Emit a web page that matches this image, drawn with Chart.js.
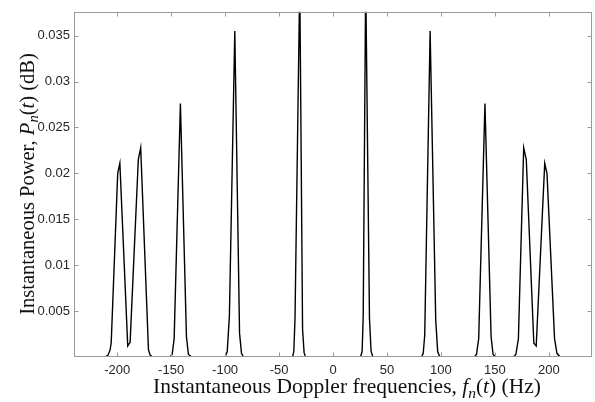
<!DOCTYPE html>
<html>
<head>
<meta charset="utf-8">
<script src="https://cdn.jsdelivr.net/npm/chart.js@4.4.0/dist/chart.umd.min.js"></script>
<style>
  html, body { margin: 0; padding: 0; background: #fff; }
  #wrap { width: 595px; height: 402px; }
</style>
</head>
<body>
<div id="wrap"><canvas id="chart" width="595" height="402"></canvas></div>
<script>
// Doppler frequencies (Hz) and instantaneous power
const freqs = [
  -240, -211, -208.5, -206.5, -205.5, -199.5, -197.5, -190.2, -188, -180.4, -178.2, -171, -169.5, -167,
  -151, -149, -147.2, -141.4, -135.8, -134, -131,
  -100, -98, -96, -91, -86.6, -84.8, -83,
  -37.5, -36.3, -35.2, -30.8, -28.2, -26.8, -25.5,
  25.5, 27, 28, 30.3, 33.8, 35.3, 37,
  82, 83.6, 85, 90, 95.2, 97, 99,
  131, 133, 135, 140.8, 146.5, 148.3, 150.5,
  167.5, 169.5, 171.8, 176.7, 179.1, 186.1, 188.3, 196.2, 198.3, 205.3, 207.5, 210.5, 240
];
const powers = [
  0, 0, 0.0002, 0.0008, 0.0016, 0.0200, 0.0211, 0.0012, 0.0016, 0.0215, 0.0228, 0.0008, 0.0002, 0,
  0, 0.0003, 0.0020, 0.0276, 0.0022, 0.0003, 0,
  0, 0.0006, 0.0045, 0.0355, 0.0026, 0.0004, 0,
  0, 0.0006, 0.0042, 0.0410, 0.0030, 0.0005, 0,
  0, 0.0006, 0.0045, 0.0410, 0.0042, 0.0006, 0,
  0, 0.0004, 0.0024, 0.0355, 0.0040, 0.0006, 0,
  0, 0.0003, 0.0020, 0.0276, 0.0022, 0.0003, 0,
  0, 0.0003, 0.0020, 0.0228, 0.0215, 0.0015, 0.0012, 0.0211, 0.0200, 0.0020, 0.0004, 0, 0
];
const xTicks = [-200, -150, -100, -50, 0, 50, 100, 150, 200];
const yTicks = [0.005, 0.01, 0.015, 0.02, 0.025, 0.03, 0.035];
const xRange = [-240, 240];
const yRange = [0, 0.0376];

const serif = '"Liberation Serif", "Times New Roman", serif';

// draws a line of text mixing roman, italic and subscript pieces
function drawRich(ctx, parts, size) {
  const fontOf = p => p.sub
    ? `italic ${size * 0.72}px ${serif}`
    : `${p.it ? 'italic ' : ''}${size}px ${serif}`;
  let total = 0;
  parts.forEach(p => { ctx.font = fontOf(p); p.w = ctx.measureText(p.t).width; total += p.w; });
  let x = -total / 2;
  parts.forEach(p => {
    ctx.font = fontOf(p);
    ctx.fillText(p.t, x, p.sub ? size * 0.22 : 0);
    x += p.w;
  });
}

const frame = {
  id: 'frame',
  afterDraw(chart) {
    const { ctx, chartArea: a, scales: { x, y } } = chart;
    ctx.save();
    ctx.strokeStyle = '#9a9a9a';
    ctx.lineWidth = 1;
    const L = Math.round(a.left) + 0.5, R = Math.round(a.right) - 0.5;
    const T = Math.round(a.top) + 0.5, B = Math.round(a.bottom) - 0.5;
    ctx.strokeRect(L, T, R - L, B - T);
    ctx.beginPath();
    xTicks.forEach(v => {
      const px = Math.round(x.getPixelForValue(v)) + 0.5;
      ctx.moveTo(px, B); ctx.lineTo(px, B - 4);
      ctx.moveTo(px, T); ctx.lineTo(px, T + 4);
    });
    yTicks.forEach(v => {
      const py = Math.round(y.getPixelForValue(v)) + 0.5;
      ctx.moveTo(L, py); ctx.lineTo(L + 4, py);
      ctx.moveTo(R, py); ctx.lineTo(R - 4, py);
    });
    ctx.stroke();

    ctx.fillStyle = '#111';
    ctx.textBaseline = 'alphabetic';
    ctx.textAlign = 'left';
    // x title
    ctx.save();
    ctx.translate(347, 393);
    drawRich(ctx, [
      { t: 'Instantaneous Doppler frequencies, ' },
      { t: 'f', it: true },
      { t: 'n', sub: true },
      { t: '(' }, { t: 't', it: true }, { t: ') (Hz)' }
    ], 21.5);
    ctx.restore();
    // y title
    ctx.save();
    ctx.translate(33.5, 184);
    ctx.rotate(-Math.PI / 2);
    drawRich(ctx, [
      { t: 'Instantaneous Power, ' },
      { t: 'P', it: true },
      { t: 'n', sub: true },
      { t: '(' }, { t: 't', it: true }, { t: ') (dB)' }
    ], 20.5);
    ctx.restore();
    ctx.restore();
  }
};

const tickFont = { family: '"Liberation Sans", Arial, sans-serif', size: 13 };

new Chart(document.getElementById('chart'), {
  type: 'line',
  data: {
    datasets: [{
      data: freqs.map((f, i) => ({ x: f, y: powers[i] })),
      borderColor: '#000',
      borderWidth: 1.4,
      pointRadius: 0,
      tension: 0,
      fill: false
    }]
  },
  options: {
    responsive: false,
    animation: false,
    events: [],
    layout: { padding: { top: 11, right: 3, left: 0, bottom: 0 } },
    plugins: { legend: { display: false }, tooltip: { enabled: false } },
    scales: {
      x: {
        type: 'linear',
        min: xRange[0],
        max: xRange[1],
        grid: { display: false, drawTicks: false },
        border: { display: false },
        ticks: { padding: 6, color: '#262626', font: tickFont, maxRotation: 0, callback: v => String(v) },
        afterBuildTicks: s => { s.ticks = xTicks.map(v => ({ value: v })); },
        afterFit: s => { s.height = 45; }
      },
      y: {
        type: 'linear',
        min: yRange[0],
        max: yRange[1],
        grid: { display: false, drawTicks: false },
        border: { display: false },
        ticks: { padding: 4, color: '#262626', font: tickFont, callback: v => String(v) },
        afterBuildTicks: s => { s.ticks = yTicks.map(v => ({ value: v })); },
        afterFit: s => { s.width = 74; }
      }
    }
  },
  plugins: [frame]
});
</script>
</body>
</html>
